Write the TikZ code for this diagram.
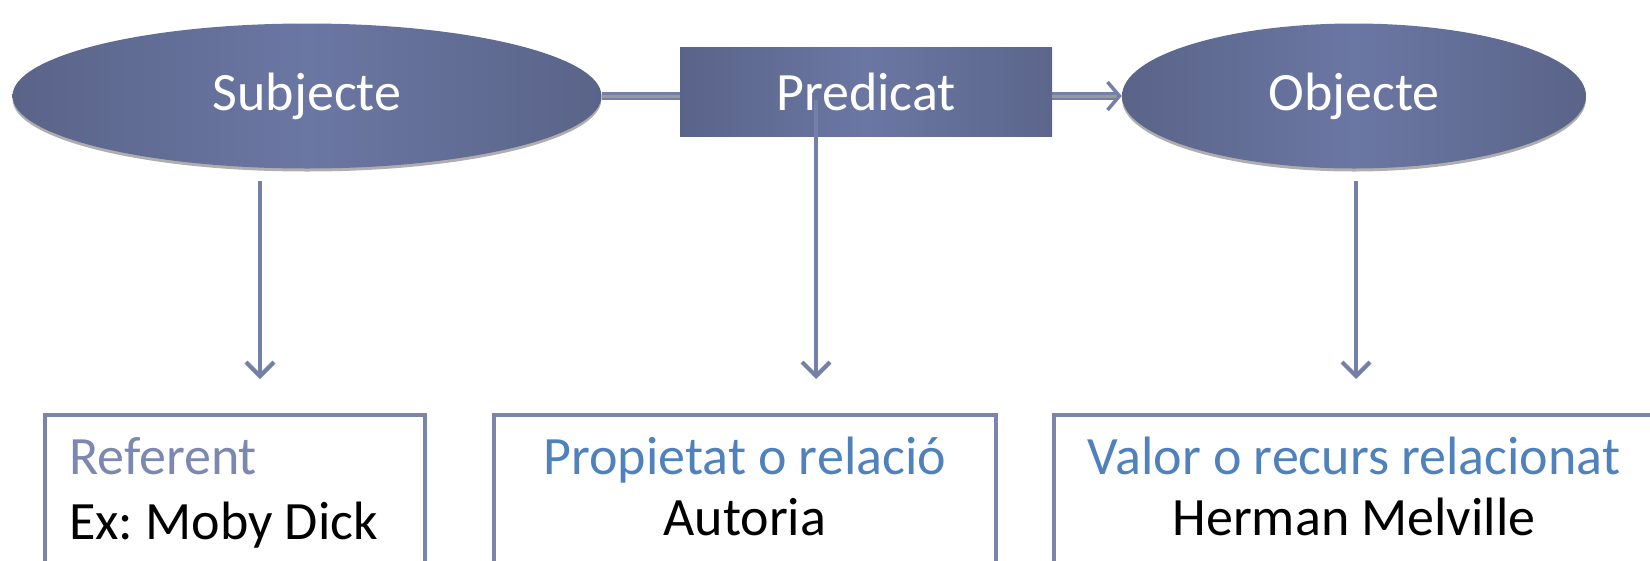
\documentclass[tikz,border=0pt]{standalone}
\usepackage{fontspec}
\setmainfont{Carlito}
\usetikzlibrary{arrows.meta,shadows,calc,shapes.geometric}
\definecolor{elldark}{HTML}{5A6489}
\definecolor{elllight}{HTML}{6B77A3}
\definecolor{linec}{HTML}{7480A8}
\definecolor{boxc}{HTML}{7B85AA}
\definecolor{refc}{HTML}{7D88B0}
\definecolor{bluet}{HTML}{4F81BD}
\frenchspacing
\tikzset{
  bigfont/.style={font=\fontsize{54}{64}\selectfont},
  ell/.style={ellipse, draw=none, shading=axis, shading angle=60, left color=elldark, right color=elldark, middle color=elllight,
    text=white, bigfont, inner sep=0pt,
    drop shadow={shadow xshift=0pt, shadow yshift=-3pt, fill=black!45, opacity=0.7}},
  rectnode/.style={rectangle, draw=none, left color=elldark, right color=elldark!90!elllight, middle color=elllight,
    text=white, bigfont, inner sep=0pt},
  outbox/.style={rectangle, draw=boxc, line width=3.5pt, fill=white, anchor=north west, inner sep=0pt},
  label1/.style={bigfont, text=refc, inner sep=0pt},
  label2/.style={bigfont, text=black, inner sep=0pt},
  dbl/.style={draw=linec, line width=2.4pt, double=black!40, double distance=3pt},
  varrow/.style={draw=linec, line width=4.2pt, -{Straight Barb[length=14pt,width=28pt,line width=4.2pt]}},
}
\begin{document}
\begin{tikzpicture}[x=1pt,y=-1pt]
\useasboundingbox (0,0) rectangle (1650,560);
\clip (0,0) rectangle (1650,560);
% top nodes
\node[ell, minimum width=589, minimum height=145] (subj) at (307,96) {Subjecte};
\node[rectnode, minimum width=372, minimum height=89] (pred) at (866,91.5) {Predicat};
\node[ell, minimum width=464, minimum height=145] (obj) at (1354,96) {Objecte};
% horizontal connectors
\draw[dbl] (subj.east) -- (subj.east -| pred.west);
\draw[dbl, -{Straight Barb[length=12pt,width=28pt,line width=3.5pt]}] (obj.west -| pred.east) -- (obj.west);
% bottom boxes
\node[outbox, minimum width=380, minimum height=200] (b1) at (43,413) {};
\node[outbox, minimum width=502, minimum height=200] (b2) at (492,413) {};
\node[outbox, minimum width=612, minimum height=200] (b3) at (1052,413) {};
% texts in boxes
\node[label1, anchor=base west] (t1a) at ($(b1.north west)+(26,61)$) {Referent};
\node[label2, anchor=base west] (t1b) at ($(b1.north west)+(26,126)$) {Ex: Moby Dick};
\node[label1, text=bluet, anchor=base] (t2a) at ($(b2.north)+(0,61)$) {Propietat o relació};
\node[label2, anchor=base] (t2b) at ($(b2.north)+(0,122)$) {Autoria};
\node[label1, text=bluet, anchor=base] (t3a) at (1354,474) {Valor o recurs relacionat};
\node[label2, anchor=base] (t3b) at (1354,535) {Herman Melville};
% vertical arrows
\coordinate (s1) at (260,181);
\coordinate (s2) at (816,100);
\coordinate (s3) at (1356,181);
\draw[varrow, shorten >=34pt] (s1) -- (s1 |- b1.north);
\draw[varrow, shorten >=34pt] (s2) -- (s2 |- b2.north);
\draw[varrow, shorten >=34pt] (s3) -- (s3 |- b3.north);
\end{tikzpicture}
\end{document}
